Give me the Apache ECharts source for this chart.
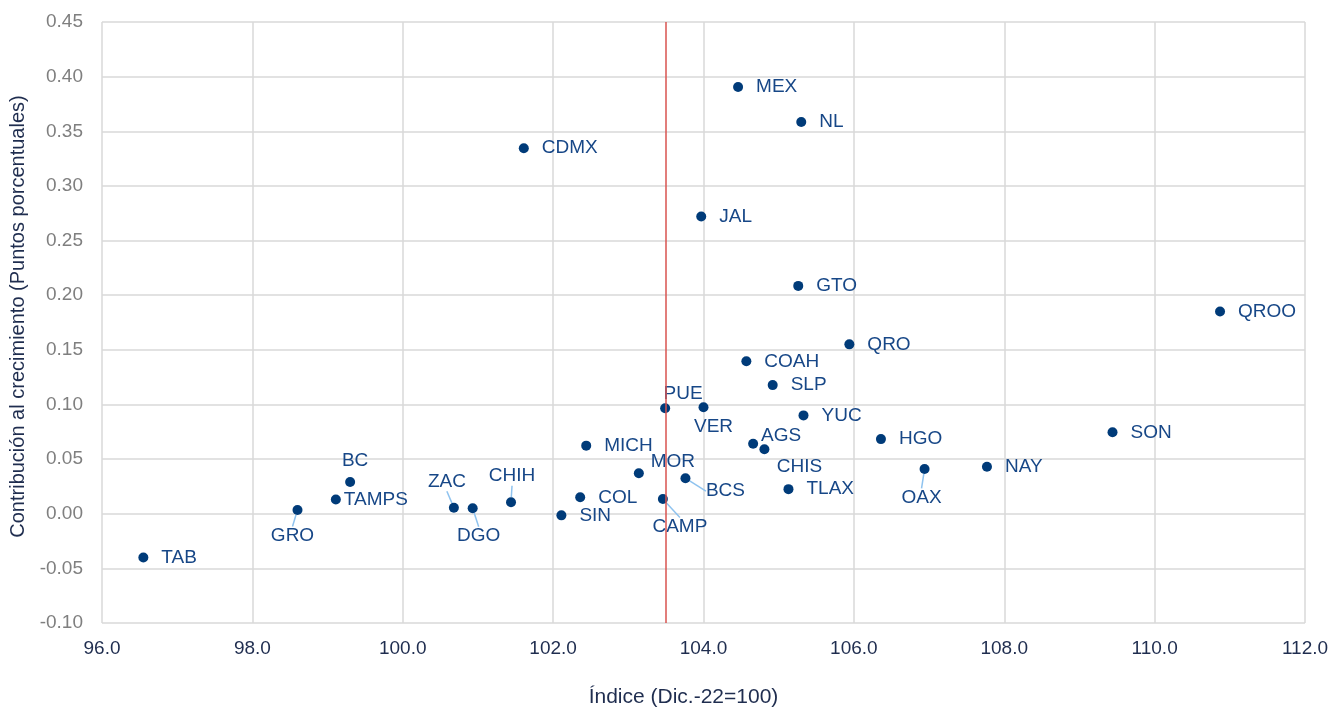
<!DOCTYPE html>
<html>
<head>
<meta charset="utf-8">
<script src="https://cdn.jsdelivr.net/npm/echarts@6/dist/echarts.min.js"></script>
<style>
  html, body { margin: 0; padding: 0; background: #fff; }
  #main { width: 1332px; height: 711px; }
</style>
</head>
<body>
<div id="main"></div>
<script>
// datos por estado
const estados = ['TAB', 'GRO', 'BC', 'TAMPS', 'ZAC', 'DGO', 'CHIH', 'SIN', 'COL', 'MICH',
  'MOR', 'CAMP', 'PUE', 'BCS', 'VER', 'CDMX', 'JAL', 'MEX', 'COAH', 'AGS',
  'CHIS', 'SLP', 'TLAX', 'GTO', 'NL', 'YUC', 'QRO', 'HGO', 'OAX', 'NAY', 'SON', 'QROO'];
const indice = [96.55, 98.60, 99.30, 99.11, 100.68, 100.93, 101.44, 102.11, 102.36, 102.44,
  103.14, 103.46, 103.49, 103.76, 104.00, 101.61, 103.97, 104.46, 104.57, 104.66,
  104.81, 104.92, 105.13, 105.26, 105.30, 105.33, 105.94, 106.36, 106.94, 107.77, 109.44, 110.87];
const contribucion = [-0.040, 0.0034, 0.029, 0.0130, 0.0055, 0.0050, 0.0105, -0.0015, 0.0150, 0.0623,
  0.0370, 0.0135, 0.0966, 0.0325, 0.0975, 0.3345, 0.272, 0.3905, 0.1395, 0.0640,
  0.0590, 0.1177, 0.0225, 0.2085, 0.3585, 0.0900, 0.1550, 0.0683, 0.0410, 0.0430, 0.0745, 0.1850];
const lineaRef = 103.5;
const xTicks = { min: 96, max: 112, step: 2 };
const yTicks = { min: -0.10, max: 0.45, step: 0.05 };

// etiquetas que no van a la derecha: [dx, dy, con linea guia]
const movidas = {
  GRO: [-5, 26, true],
  BC: [5, -21, false],
  ZAC: [-7, -26, true],
  DGO: [6, 28, true],
  CHIH: [1, -26, true],
  MOR: [34, -12, false],
  CAMP: [17, 28, true],
  PUE: [18, -14, false],
  VER: [10, 20, false],
  BCS: [40, 13, true],
  AGS: [28, -8, false],
  CHIS: [35, 18, false],
  OAX: [-3, 29, true]
};

const puntos = estados.map((n, i) => {
  const p = { name: n, value: [indice[i], contribucion[i]] };
  if (movidas[n] && movidas[n][2]) p.labelLine = { show: true };
  if (n === 'TAMPS') p.label = { distance: 3 };
  return p;
});

const chart = echarts.init(document.getElementById('main'));
const fuente = '"Liberation Sans", Arial, sans-serif';

chart.setOption({
  animation: false,
  textStyle: { fontFamily: fuente },
  grid: { left: 102, right: 27, top: 22, bottom: 88, outerBoundsMode: 'none' },
  xAxis: {
    type: 'value',
    min: xTicks.min, max: xTicks.max, interval: xTicks.step,
    name: 'Índice (Dic.-22=100)',
    nameLocation: 'middle', nameGap: 64,
    nameTextStyle: { color: '#1f2d4f', fontSize: 21, fontFamily: fuente, padding: [0, 40, 0, 0] },
    axisLine: { show: false },
    axisTick: { show: false },
    axisLabel: { color: '#1f2d4f', fontSize: 19, margin: 16, formatter: v => v.toFixed(1) },
    splitLine: { show: true, lineStyle: { color: '#d9d9d9', width: 1.5 } }
  },
  yAxis: {
    type: 'value',
    min: yTicks.min, max: yTicks.max, interval: yTicks.step,
    name: 'Contribución al crecimiento (Puntos porcentuales)',
    nameLocation: 'middle', nameGap: 68, nameRotate: 90,
    nameTextStyle: { color: '#1f2d4f', fontSize: 20, fontFamily: fuente, padding: [0, 0, 0, 12] },
    axisLine: { show: false },
    axisTick: { show: false },
    axisLabel: { color: '#7f7f7f', fontSize: 19, margin: 19, formatter: v => v.toFixed(2) },
    splitLine: { show: true, lineStyle: { color: '#d9d9d9', width: 1.5 } }
  },
  series: [{
    type: 'scatter',
    symbolSize: 10,
    itemStyle: { color: '#003b79', opacity: 1 },
    data: puntos,
    label: {
      show: true,
      position: 'right',
      distance: 13,
      formatter: '{b}',
      color: '#174787',
      fontSize: 19,
      fontFamily: fuente
    },
    labelLine: { show: false, lineStyle: { color: '#8fc3ef', width: 1.5 } },
    labelLayout: function (params) {
      const m = movidas[estados[params.dataIndex]];
      if (!m) return {};
      const r = params.rect;
      return {
        x: r.x + r.width / 2 + m[0],
        y: r.y + r.height / 2 + m[1],
        align: 'center',
        verticalAlign: 'middle'
      };
    },
    markLine: {
      silent: true,
      symbol: 'none',
      label: { show: false },
      lineStyle: { color: '#d9534f', width: 1.5, type: 'solid' },
      data: [{ xAxis: lineaRef }]
    }
  }]
});
</script>
</body>
</html>
